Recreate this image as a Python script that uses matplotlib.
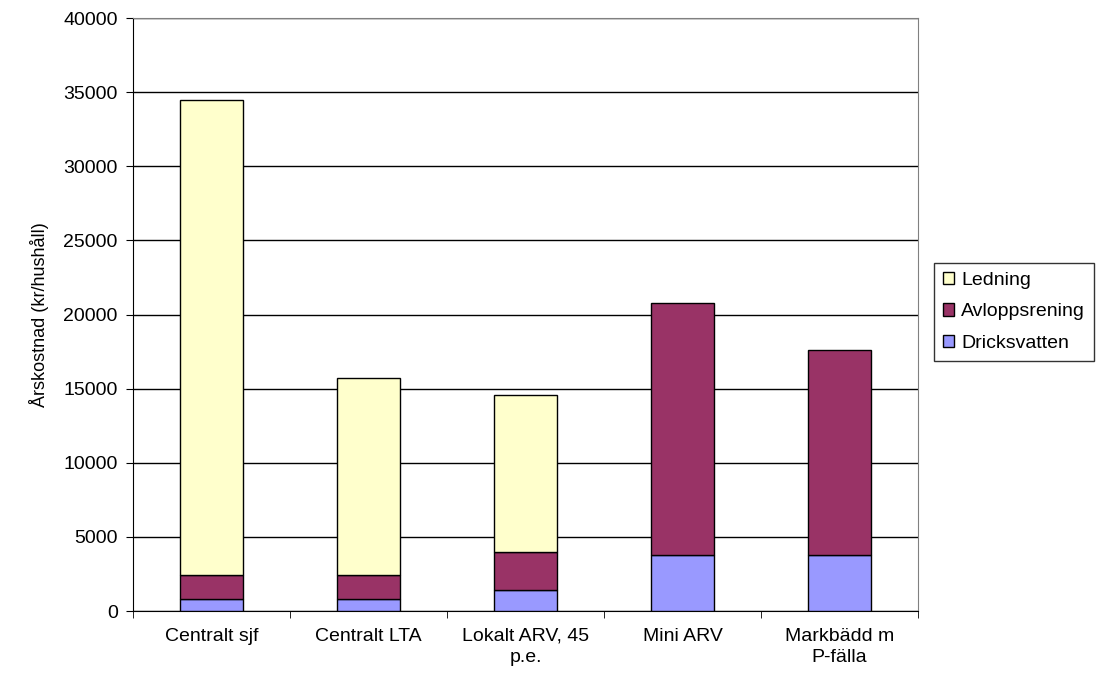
import numpy as np
import matplotlib.pyplot as plt

plt.rcParams['font.family'] = ['Liberation Sans', 'DejaVu Sans']

# data
categories = ['Centralt sjf', 'Centralt LTA', 'Lokalt ARV, 45\np.e.', 'Mini ARV', 'Markbädd m\nP-fälla']
dricksvatten = [830, 830, 1400, 3750, 3750]
avloppsrening = [1620, 1620, 2600, 17050, 13850]
ledning = [32050, 13300, 10600, 0, 0]

fig = plt.figure(figsize=(11.04, 6.83), dpi=100)
ax = fig.add_axes([0.1205, 0.1054, 0.7110, 0.8682])

x = np.arange(len(categories))
w = 0.4
kw = dict(width=w, edgecolor='black', linewidth=1.0, zorder=3)
b1 = ax.bar(x, dricksvatten, color='#9999FF', label='Dricksvatten', **kw)
b2 = ax.bar(x, avloppsrening, bottom=dricksvatten, color='#993366', label='Avloppsrening', **kw)
bottom2 = np.array(dricksvatten) + np.array(avloppsrening)
mask = np.array(ledning) > 0
b3 = ax.bar(x[mask], np.array(ledning)[mask], bottom=bottom2[mask], color='#FFFFCC',
            label='Ledning', **kw)

ax.set_xlim(-0.5, len(categories) - 0.5)
ax.set_ylim(0, 40000)
ax.set_yticks(np.arange(0, 40001, 5000))
ax.yaxis.grid(True, color='black', linewidth=1.0, zorder=0)
ax.set_axisbelow(True)

ax.set_xticks(x)
ax.set_xticklabels(categories, fontsize=14, linespacing=1.3)
ax.set_xticks(np.arange(-0.5, len(categories), 1), minor=True)
ax.tick_params(axis='x', which='major', length=0, pad=12)
ax.tick_params(axis='x', which='minor', length=5, direction='out', color='black')
ax.tick_params(axis='y', length=5, direction='out', labelsize=14, pad=6)

for s in ['top', 'right']:
    ax.spines[s].set_color('#808080')
for s in ['left', 'bottom']:
    ax.spines[s].set_color('black')

ax.set_ylabel('Årskostnad (kr/hushåll)', fontsize=13, labelpad=10)

handles = [b3, b2, b1]
leg = fig.legend(handles, ['Ledning', 'Avloppsrening', 'Dricksvatten'],
                 loc='upper left', bbox_to_anchor=(934 / 1104, 1 - 263 / 683),
                 fontsize=14, frameon=True, fancybox=False, edgecolor='black',
                 handlelength=0.6, handleheight=0.6, handletextpad=0.35,
                 borderpad=0.45, labelspacing=0.75, borderaxespad=0)
leg.get_frame().set_linewidth(1.0)

fig.savefig('out.png', dpi=100)
